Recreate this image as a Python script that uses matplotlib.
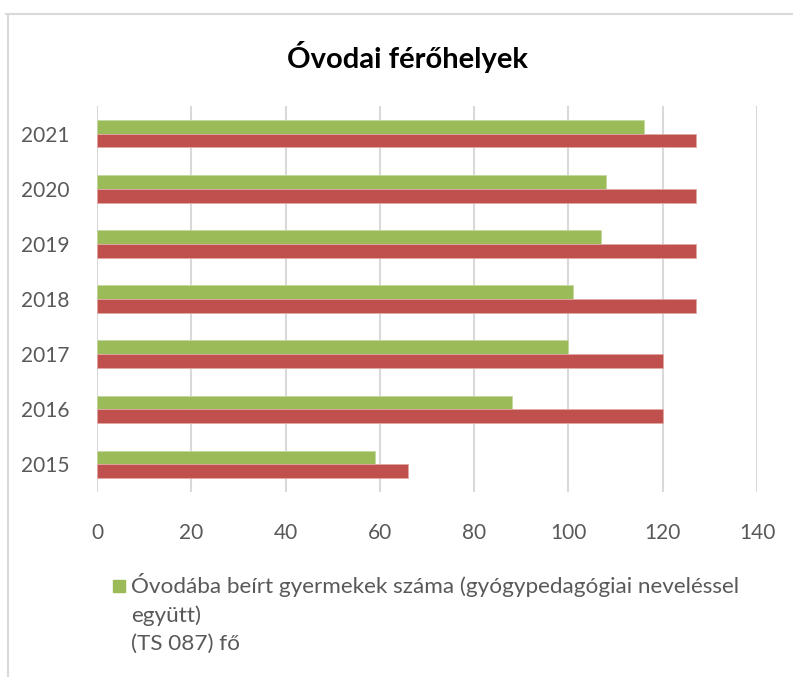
import numpy as np
import matplotlib
matplotlib.use('Agg')
import matplotlib.pyplot as plt
from matplotlib.patches import Rectangle
from matplotlib.lines import Line2D

plt.rcParams.update({'font.family': ['Lato', 'DejaVu Sans']})

# data
years = ['2015', '2016', '2017', '2018', '2019', '2020', '2021']
beirt = [59, 88, 100, 101, 107, 108, 116]        # green series
ferohely = [66, 120, 120, 127, 127, 127, 127]    # red series
x_ticks = [0, 20, 40, 60, 80, 100, 120, 140]

green = '#9BBB59'
red = '#C0504D'
txt = '#595959'
W, H = 793, 677

fig = plt.figure(figsize=(W / 100, H / 100), dpi=100)
ax = fig.add_axes([97 / W, 1 - 492 / H, (757 - 97) / W, (492 - 106) / H])

y = np.arange(len(years))
h = 0.25
ax.barh(y + h / 2, beirt, height=h, color=green, edgecolor='#C4D89F', linewidth=0.6, zorder=3)
ax.barh(y - h / 2, ferohely, height=h, color=red, edgecolor='#E2A8A6', linewidth=0.6, zorder=3)

ax.set_xlim(0, 140)
ax.set_ylim(-0.5, len(years) - 0.5)
ax.set_xticks(x_ticks)
ax.set_yticks(y)
ax.set_yticklabels(years)
ax.tick_params(length=0, labelsize=15, labelcolor=txt)
ax.tick_params(axis='x', pad=22)
ax.tick_params(axis='y', pad=20)
ax.grid(axis='x', color='#D9D9D9', linewidth=1.5, zorder=0)
for s in ax.spines.values():
    s.set_visible(False)

fig.text(407 / W, 1 - 57 / H, 'Óvodai férőhelyek', ha='center', va='center',
         fontsize=21, fontweight='bold', color='black')

# legend (only the green series is shown)
fig.patches.append(Rectangle((113 / W, 1 - 592 / H), 12 / W, 12 / H,
                             transform=fig.transFigure, color=green))
fig.text(131 / W, 1 - 573 / H,
         'Óvodába beírt gyermekek száma (gyógypedagógiai neveléssel\negyütt)\n(TS 087) fő',
         ha='left', va='top', fontsize=16.2, color=txt, linespacing=1.5)

# outer frame (top and left edges visible)
fig.add_artist(Line2D([6 / W, 1], [1 - 13.5 / H, 1 - 13.5 / H], color='#D9D9D9', linewidth=1.5))
fig.add_artist(Line2D([8 / W, 8 / W], [0, 1 - 13.5 / H], color='#D9D9D9', linewidth=1.5))

fig.savefig('out.png', dpi=100)
